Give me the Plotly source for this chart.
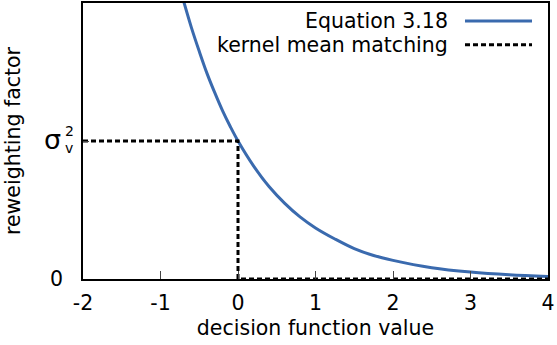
import plotly.graph_objects as go

# Equation 3.18 curve
eq_x = [-0.70, -0.60, -0.50, -0.40, -0.30, -0.20, -0.10, 0.00, 0.20, 0.40, 0.60, 0.80,
        1.00, 1.25, 1.50, 1.75, 2.00, 2.50, 3.00, 3.50, 4.00]
eq_y = [2.01, 1.82, 1.65, 1.49, 1.35, 1.22, 1.105, 1.00, 0.82, 0.67, 0.55, 0.45,
        0.37, 0.29, 0.22, 0.17, 0.135, 0.082, 0.05, 0.03, 0.018]

# kernel mean matching step
kmm_x = [-2, 0, 0, 4]
kmm_y = [1, 1, 0, 0]

x_ticks = [-2, -1, 0, 1, 2, 3, 4]
x_ticktext = ["-2", "-1", "0", "1", "2", "3", "4"]
y_ticks = [0, 1]
y_ticktext = ["0", ""]

series_names = ["Equation 3.18", "kernel mean matching"]

BLUE = "#3a6aae"
FONT = "DejaVu Sans, Liberation Sans, Arial, sans-serif"
FS = 20.5
DASH = "5px,3px"

fig = go.Figure()
fig.add_trace(go.Scatter(x=eq_x, y=eq_y, mode="lines", line=dict(color=BLUE, width=3, shape="spline"),
                         name=series_names[0], showlegend=False, cliponaxis=True))
fig.add_trace(go.Scatter(x=kmm_x, y=kmm_y, mode="lines", line=dict(color="black", width=3, dash=DASH),
                         name=series_names[1], showlegend=False, cliponaxis=False))

fig.update_layout(
    width=557, height=345,
    margin=dict(l=83, r=9, t=1, b=66),
    plot_bgcolor="white", paper_bgcolor="white",
    font=dict(family=FONT, size=FS, color="black"),
    xaxis=dict(range=[-2, 4], tickvals=x_ticks, ticktext=x_ticktext, ticks="inside", ticklen=8, tickwidth=1.2,
               showline=True, linecolor="black", linewidth=1.5, mirror=True, showgrid=False,
               zeroline=False, tickfont=dict(size=FS), ticklabelstandoff=5,
               title=dict(text="decision function value", standoff=6, font=dict(size=FS))),
    yaxis=dict(range=[0, 2], tickvals=y_ticks, ticktext=y_ticktext, ticks="inside", ticklen=6, tickwidth=1.2,
               showline=True, linecolor="black", linewidth=1.5, mirror=True, showgrid=False,
               zeroline=False, tickfont=dict(size=FS), ticklabelstandoff=14,
               title=dict(text="reweighting factor", standoff=24, font=dict(size=FS))),
)

# sigma_v^2 tick label
fig.add_annotation(x=0, xref="paper", y=1, yref="y", text="σ", showarrow=False,
                   xanchor="right", xshift=-20, yshift=2, font=dict(size=27, family=FONT))
fig.add_annotation(x=0, xref="paper", y=1, yref="y", text="2", showarrow=False,
                   xanchor="center", xshift=-14, yshift=10, font=dict(size=14, family=FONT))
fig.add_annotation(x=0, xref="paper", y=1, yref="y", text="v", showarrow=False,
                   xanchor="center", xshift=-14, yshift=-7, font=dict(size=14, family=FONT))

# legend (gnuplot style: text right-aligned, sample to the right)
leg_y = [0.935, 0.849]
for name, yy, col, dash in zip(series_names, leg_y, [BLUE, "black"], ["solid", DASH]):
    fig.add_annotation(x=0.789, xref="paper", y=yy, yref="paper", text=name, showarrow=False,
                       xanchor="right", yanchor="middle", font=dict(size=FS, family=FONT))
    fig.add_shape(type="line", xref="paper", yref="paper", x0=0.8215, x1=0.9656, y0=yy, y1=yy,
                  line=dict(color=col, width=3, dash=dash))

fig.write_html("out.html")
